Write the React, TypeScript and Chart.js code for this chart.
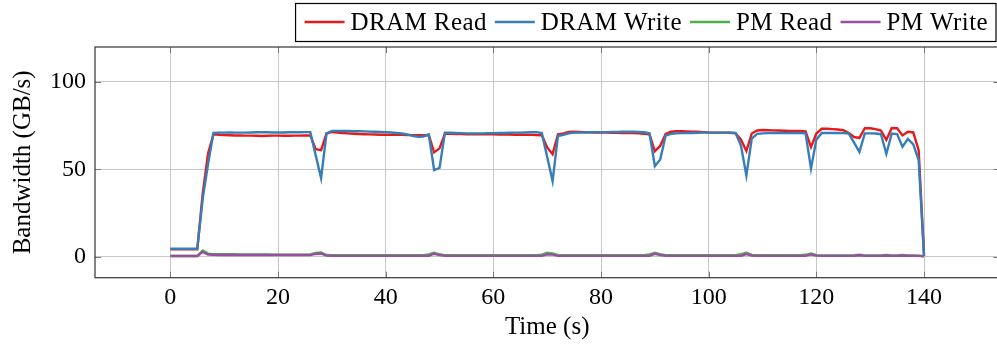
import React, { useEffect, useRef } from "react";
import { Chart, registerables } from "chart.js";

Chart.register(...registerables);

// Memory bandwidth samples, one per second from t = 0 s to t = 140 s (GB/s)
const sampleStepS = 1;

const dramRead = [
  4.2, 4.2, 4.2, 4.2, 4.2, 4.2, 36, 59, 70, 69.8,
  69.6, 69.5, 69.4, 69.4, 69.3, 69.3, 69.2, 69.1, 69.2, 69.3,
  69.3, 69.2, 69.2, 69.3, 69.3, 69.4, 69.4, 61.5, 61, 70.5,
  71.4, 71.0, 70.8, 70.6, 70.4, 70.2, 70.1, 70.0, 69.9, 69.8,
  69.8, 69.7, 69.7, 69.7, 69.6, 69.6, 69.5, 69.5, 69.6, 59.7,
  62, 70.4, 70.3, 70.2, 70.2, 70.1, 70.1, 70.1, 70.0, 70.0,
  70.0, 69.9, 69.9, 69.9, 69.8, 69.8, 69.7, 69.7, 69.6, 69.5,
  62.5, 58.7, 70.0, 70.6, 71.4, 71.5, 71.4, 71.3, 71.2, 71.1,
  71.0, 71.0, 70.9, 70.9, 70.8, 70.7, 70.7, 70.6, 70.4, 70.0,
  60.3, 63.5, 70.3, 71.5, 71.8, 71.8, 71.7, 71.6, 71.5, 71.3,
  71.1, 71.0, 71.0, 71.0, 70.9, 70.6, 67, 60.5, 70.5, 72.2,
  72.5, 72.4, 72.3, 72.2, 72.1, 72.0, 71.9, 71.9, 71.7, 62.7,
  70.5, 73.2, 73.2, 73.0, 72.8, 72.4, 70.8, 68.5, 68, 73.5,
  73.5, 73.0, 72.2, 66.8, 73.6, 73.5, 69.4, 71.5, 71.1, 61,
  0.8,
];

const dramWrite = [
  4.6, 4.6, 4.6, 4.6, 4.6, 4.6, 33, 53, 70.8, 71.0,
  71.0, 71.1, 71.0, 71.0, 71.0, 71.1, 71.2, 71.3, 71.2, 71.1,
  71.1, 71.1, 71.2, 71.2, 71.2, 71.3, 71.3, 58, 45, 70.5,
  72.0, 72.0, 71.9, 71.9, 71.8, 71.8, 71.7, 71.6, 71.5, 71.4,
  71.3, 71.1, 70.8, 70.5, 70.0, 69.2, 68.6, 68.8, 70.0, 49.6,
  50.8, 71.0, 70.9, 70.8, 70.7, 70.6, 70.5, 70.6, 70.6, 70.7,
  70.7, 70.8, 70.8, 70.9, 71.0, 71.0, 71.1, 71.2, 71.3, 70.8,
  57, 43.3, 69.1, 69.8, 70.6, 71.0, 71.0, 71.1, 71.2, 71.2,
  71.3, 71.3, 71.4, 71.4, 71.5, 71.5, 71.5, 71.4, 71.2, 70.6,
  51.8, 55.7, 69.3, 70.3, 70.6, 70.7, 70.8, 70.8, 70.9, 71.0,
  71.0, 71.0, 71.0, 71.0, 71.0, 70.8, 63.5, 46.5, 67.6, 70.3,
  70.6, 70.7, 70.8, 70.8, 70.8, 70.8, 70.8, 70.8, 70.6, 50.4,
  67, 70.8, 70.8, 70.8, 70.8, 70.7, 70.5, 65.3, 60, 70.6,
  70.6, 70.5, 70.1, 58.8, 70.5, 70.2, 62.9, 67.4, 64.3, 55.3,
  0.4,
];

const pmRead = [
  0.4, 0.4, 0.4, 0.4, 0.4, 0.4, 3.6, 1.8, 1.5, 1.4,
  1.4, 1.4, 1.4, 1.3, 1.3, 1.3, 1.3, 1.3, 1.3, 1.2,
  1.2, 1.2, 1.2, 1.2, 1.2, 1.2, 1.3, 2.2, 2.4, 1.0,
  0.9, 0.9, 0.9, 0.9, 0.9, 0.9, 0.9, 0.9, 0.9, 0.9,
  0.9, 0.9, 0.9, 0.9, 0.9, 0.9, 0.9, 0.9, 1.3, 2.3,
  1.4, 0.9, 0.9, 0.9, 0.9, 0.9, 0.9, 0.9, 0.9, 0.9,
  0.9, 0.9, 0.9, 0.9, 0.9, 0.9, 0.9, 0.9, 0.9, 1.2,
  2.3, 1.9, 0.9, 0.9, 0.9, 0.9, 0.9, 0.9, 0.9, 0.9,
  0.9, 0.9, 0.9, 0.9, 0.9, 0.9, 0.9, 0.9, 0.9, 1.3,
  2.3, 1.5, 0.9, 0.9, 0.9, 0.9, 0.9, 0.9, 0.9, 0.9,
  0.9, 0.9, 0.9, 0.9, 0.9, 0.9, 1.4, 2.2, 1.0, 0.9,
  0.9, 0.9, 0.9, 0.9, 0.9, 0.9, 0.9, 0.9, 1.1, 1.8,
  0.9, 0.8, 0.8, 0.8, 0.8, 0.8, 0.8, 0.9, 1.2, 0.8,
  0.8, 0.8, 0.8, 1.0, 0.8, 0.8, 1.0, 0.8, 0.7, 0.6,
  0.3,
];

const pmWrite = [
  0.4, 0.4, 0.4, 0.4, 0.4, 0.4, 2.8, 1.3, 1.1, 1.0,
  1.0, 1.0, 1.0, 1.0, 1.0, 1.0, 1.0, 1.0, 1.0, 1.0,
  1.0, 1.0, 1.0, 1.0, 1.0, 1.0, 1.0, 1.6, 1.8, 0.6,
  0.5, 0.5, 0.5, 0.5, 0.5, 0.5, 0.5, 0.5, 0.5, 0.5,
  0.5, 0.5, 0.5, 0.5, 0.5, 0.5, 0.5, 0.5, 0.5, 1.7,
  0.9, 0.5, 0.5, 0.5, 0.5, 0.5, 0.5, 0.5, 0.5, 0.5,
  0.5, 0.5, 0.5, 0.5, 0.5, 0.5, 0.5, 0.5, 0.5, 0.5,
  1.4, 1.2, 0.5, 0.5, 0.5, 0.5, 0.5, 0.5, 0.5, 0.5,
  0.5, 0.5, 0.5, 0.5, 0.5, 0.5, 0.5, 0.5, 0.5, 0.5,
  1.6, 0.9, 0.5, 0.5, 0.5, 0.5, 0.5, 0.5, 0.5, 0.5,
  0.5, 0.5, 0.5, 0.5, 0.5, 0.5, 0.5, 1.5, 0.7, 0.5,
  0.5, 0.5, 0.5, 0.5, 0.5, 0.5, 0.5, 0.5, 0.5, 1.3,
  0.6, 0.5, 0.5, 0.5, 0.5, 0.5, 0.5, 0.5, 0.8, 0.5,
  0.5, 0.5, 0.5, 0.7, 0.5, 0.5, 0.7, 0.5, 0.5, 0.5,
  0.2,
];

const seriesNames = ["DRAM Read", "DRAM Write", "PM Read", "PM Write"];
const seriesColors = ["#e41a1c", "#377eb8", "#4daf4a", "#984ea3"];
const seriesValues = [dramRead, dramWrite, pmRead, pmWrite];

const timeTicks = [0, 20, 40, 60, 80, 100, 120, 140];
const bandwidthTicks = [0, 50, 100];

const SERIF = '"Liberation Serif", "Times New Roman", serif';
const LINE_WIDTH = 2.4;

// Boxed legend in a single row above the plot, right-aligned
const boxLegend = {
  id: "boxLegend",
  afterDraw(chart: any) {
    const ctx = chart.ctx as any;
    ctx.save();
    ctx.font = `25px ${SERIF}`;
    ctx.letterSpacing = "0.4px";
    const lineLen = 40;
    const gapLine = 6;
    const gapItem = 8;
    const padL = 9;
    const padR = 8;
    const widths = seriesNames.map((n) => ctx.measureText(n).width);
    const inner = widths.reduce((a, w) => a + lineLen + gapLine + w, 0) + gapItem * (seriesNames.length - 1);
    const total = padL + inner + padR;
    const right = 996;
    const left = right - total;
    const top = 3.5;
    const bottom = 41.5;
    ctx.strokeStyle = "#000";
    ctx.lineWidth = 1.2;
    ctx.strokeRect(left, top, total, bottom - top);
    const cy = 22;
    let x = left + padL;
    ctx.textBaseline = "middle";
    ctx.textAlign = "left";
    seriesNames.forEach((name, i) => {
      ctx.strokeStyle = seriesColors[i];
      ctx.lineWidth = LINE_WIDTH;
      ctx.beginPath();
      ctx.moveTo(x, cy);
      ctx.lineTo(x + lineLen, cy);
      ctx.stroke();
      x += lineLen + gapLine;
      ctx.fillStyle = "#000";
      ctx.fillText(name, x, cy + 1);
      x += widths[i] + gapItem;
    });
    ctx.restore();
  },
};

// Axis frame with short inward tick marks on every side
const axisFrame = {
  id: "axisFrame",
  afterDraw(chart: any) {
    const { ctx, chartArea, scales } = chart;
    const { left, right, top, bottom } = chartArea;
    const tick = 6;
    ctx.save();
    ctx.strokeStyle = "#7a7a7a";
    ctx.lineWidth = 1;
    ctx.beginPath();
    timeTicks.forEach((t) => {
      const px = Math.round(scales.x.getPixelForValue(t)) + 0.5;
      ctx.moveTo(px, bottom);
      ctx.lineTo(px, bottom - tick);
      ctx.moveTo(px, top);
      ctx.lineTo(px, top + tick);
    });
    bandwidthTicks.forEach((v) => {
      const py = Math.round(scales.y.getPixelForValue(v)) + 0.5;
      ctx.moveTo(left, py);
      ctx.lineTo(left + tick, py);
      ctx.moveTo(right, py);
      ctx.lineTo(right - tick, py);
    });
    ctx.stroke();
    ctx.strokeStyle = "#333";
    ctx.lineWidth = 1.2;
    ctx.strokeRect(left, top, right - left, bottom - top);
    ctx.restore();
  },
};

export default function App() {
  const canvasRef = useRef<HTMLCanvasElement | null>(null);

  useEffect(() => {
    document.body.style.margin = "0";
    document.body.style.overflow = "hidden";
    const canvas = canvasRef.current;
    if (!canvas) return;

    const datasets = seriesValues.map((values, i) => ({
      label: seriesNames[i],
      data: values.map((v, k) => ({ x: k * sampleStepS, y: v })),
      borderColor: seriesColors[i],
      backgroundColor: seriesColors[i],
      borderWidth: LINE_WIDTH,
      pointRadius: 0,
      tension: 0,
      fill: false,
      // later series are painted over earlier ones
      order: seriesNames.length - i,
    }));

    const chart = new Chart(canvas, {
      type: "line",
      data: { datasets },
      plugins: [axisFrame, boxLegend],
      options: {
        animation: false,
        responsive: false,
        events: [],
        layout: { padding: { top: 47, right: 4.6, bottom: 0, left: 0 } },
        plugins: {
          legend: { display: false },
          tooltip: { enabled: false },
        },
        scales: {
          x: {
            type: "linear",
            min: -14,
            max: 154,
            afterBuildTicks: (s: any) => {
              s.ticks = timeTicks.map((v) => ({ value: v }));
            },
            afterFit: (s: any) => {
              s.height = 71.3;
            },
            grid: { color: "#c6c6c6", lineWidth: 1, drawTicks: false },
            border: { display: false },
            ticks: {
              color: "#000",
              padding: 6,
              maxRotation: 0,
              autoSkip: false,
              font: { family: SERIF, size: 24 },
            },
            title: {
              display: true,
              text: "Time (s)",
              color: "#000",
              font: { family: SERIF, size: 25 },
              padding: { top: 0, bottom: 7 },
            },
          },
          y: {
            type: "linear",
            min: -12,
            max: 120,
            afterBuildTicks: (s: any) => {
              s.ticks = bandwidthTicks.map((v) => ({ value: v }));
            },
            afterFit: (s: any) => {
              s.width = 95;
            },
            grid: { color: "#c6c6c6", lineWidth: 1, drawTicks: false },
            border: { display: false },
            ticks: {
              color: "#000",
              padding: 9,
              font: { family: SERIF, size: 24 },
            },
            title: {
              display: true,
              text: "Bandwidth (GB/s)",
              color: "#000",
              font: { family: SERIF, size: 25 },
              padding: { top: 8, bottom: 0 },
            },
          },
        },
      },
    });

    return () => chart.destroy();
  }, []);

  return (
    <div style={{ width: 997, height: 349, overflow: "hidden", background: "#fff" }}>
      <canvas ref={canvasRef} width={1004} height={349} style={{ display: "block" }} />
    </div>
  );
}
